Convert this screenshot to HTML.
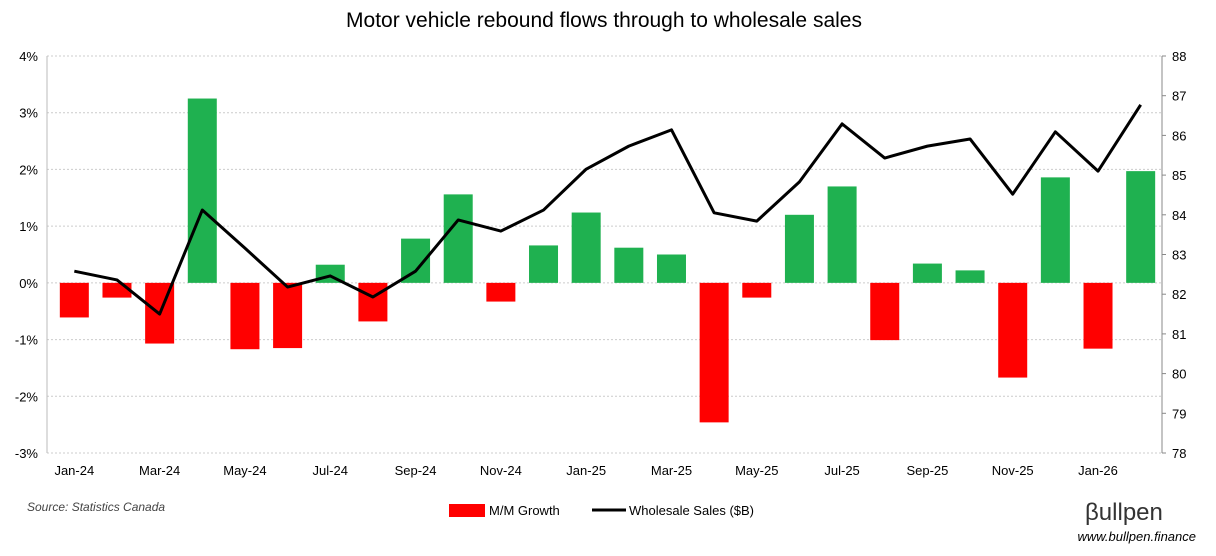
<!DOCTYPE html>
<html><head><meta charset="utf-8"><style>
body{margin:0;background:#fff;font-family:"Liberation Sans",sans-serif;}
svg{display:block}
</style></head><body>
<svg id="chart" width="1216" height="556" font-family="Liberation Sans, sans-serif">
<text x="604" y="27" text-anchor="middle" font-size="21" fill="#000">Motor vehicle rebound flows through to wholesale sales</text>
<g id="grid"></g><g id="bars"></g><g id="line"></g><g id="axes"></g>
<text x="27" y="511" font-size="12" font-style="italic" fill="#444">Source: Statistics Canada</text>
<rect x="449" y="504" width="36" height="13" fill="#ff0000"/>
<text x="489" y="515" font-size="13">M/M Growth</text>
<line x1="592" y1="510" x2="626" y2="510" stroke="#000" stroke-width="3"/>
<text x="629" y="515" font-size="13">Wholesale Sales ($B)</text>
<text x="1085" y="520" font-size="24" fill="#333">βullpen</text>
<text x="1196" y="541" text-anchor="end" font-size="13" font-style="italic" fill="#000">www.bullpen.finance</text>
</svg>
<script>
const categories=["Jan-24","Feb-24","Mar-24","Apr-24","May-24","Jun-24","Jul-24","Aug-24","Sep-24","Oct-24","Nov-24","Dec-24","Jan-25","Feb-25","Mar-25","Apr-25","May-25","Jun-25","Jul-25","Aug-25","Sep-25","Oct-25","Nov-25","Dec-25","Jan-26","Feb-26"];
const growth=[-0.61,-0.26,-1.07,3.25,-1.17,-1.15,0.32,-0.68,0.78,1.56,-0.33,0.66,1.24,0.62,0.5,-2.46,-0.26,1.2,1.7,-1.01,0.34,0.22,-1.67,1.86,-1.16,1.97];
const sales=[82.58,82.36,81.5,84.12,83.16,82.18,82.46,81.93,82.58,83.87,83.59,84.12,85.15,85.73,86.14,84.05,83.84,84.83,86.29,85.43,85.73,85.91,84.52,86.09,85.10,86.77];
const leftTicks=[4,3,2,1,0,-1,-2,-3];
const rightTicks=[88,87,86,85,84,83,82,81,80,79,78];
const NS="http://www.w3.org/2000/svg";
const X0=53,X1=1162,T=56,B=453;
const step=(X1-X0)/categories.length;
const xc=i=>X0+step*(i+0.5);
const yL=v=>T+(4-v)*(B-T)/7;
const yR=v=>T+(88-v)*(B-T)/10;
function mk(tag,attrs,parent,txt){const e=document.createElementNS(NS,tag);for(const k in attrs)e.setAttribute(k,attrs[k]);if(txt!==undefined)e.textContent=txt;document.getElementById(parent).appendChild(e);return e;}
leftTicks.forEach(t=>{
 const y=yL(t);
 const g=mk('line',{x1:47,x2:X1,y1:y,y2:y,stroke:'#ccc','stroke-dasharray':'2,2'},'grid');
 
 
 const l=mk('text',{x:38,y:y+5,'text-anchor':'end','font-size':13},'axes',t+'%');
 
 
});
rightTicks.forEach(t=>{
 const l=mk('text',{x:1172,y:yR(t)+5,'font-size':13},'axes',String(t));
 
 
 const tk=mk('line',{x1:X1,x2:X1+4,y1:yR(t),y2:yR(t),stroke:'#888'},'axes');
 
 
});
const la=mk('line',{x1:47,x2:47,y1:T,y2:B,stroke:'#bbb'},'axes');


const ra=mk('line',{x1:X1,x2:X1,y1:T,y2:B,stroke:'#888'},'axes');


categories.forEach((c,i)=>{
 const v=growth[i];const y0=yL(0),y=yL(v);
 const r=mk('rect',{x:xc(i)-14.5,y:Math.min(y,y0),width:29,height:Math.abs(y-y0),fill:v>=0?'#1fb150':'#ff0000'},'bars');
 
 
 if(i%2===0){
  const l=mk('text',{x:xc(i),y:475,'text-anchor':'middle','font-size':13},'axes',c);
  
  
 }
});
const pts=sales.map((v,i)=>xc(i)+','+yR(v)).join(' ');
const pl=mk('polyline',{points:pts,fill:'none',stroke:'#000','stroke-width':3,'stroke-linejoin':'round'},'line');


</script>
</body></html>
